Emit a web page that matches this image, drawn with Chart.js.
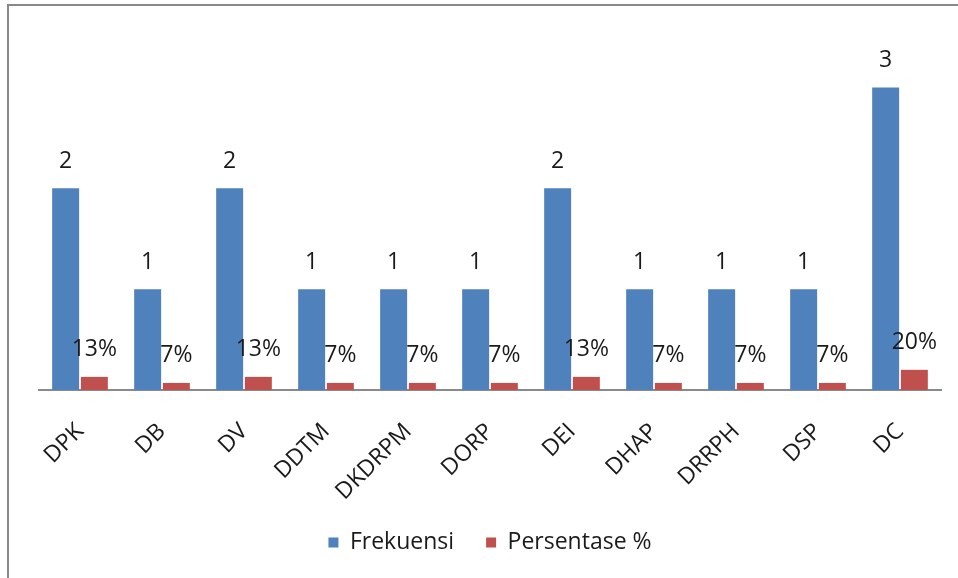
<!DOCTYPE html>
<html>
<head>
<meta charset="utf-8">
<script src="https://cdn.jsdelivr.net/npm/chart.js@4"></script>
<style>
  html, body { margin: 0; padding: 0; background: #fff; }
  #wrap { position: absolute; left: 0; top: 0; width: 958px; height: 578px; }
  .fl { position: absolute; background: #898989; }
</style>
</head>
<body>
<div id="wrap"><canvas id="c" width="958" height="578"></canvas></div>
<div class="fl" style="left:7px;top:4px;width:951px;height:2px;"></div>
<div class="fl" style="left:7px;top:4px;width:2px;height:574px;"></div>
<script>
const categories = ['DPK', 'DB', 'DV', 'DDTM', 'DKDRPM', 'DORP', 'DEI', 'DHAP', 'DRRPH', 'DSP', 'DC'];
const frekuensi = [2, 1, 2, 1, 1, 1, 2, 1, 1, 1, 3];
const persentase = [0.13, 0.07, 0.13, 0.07, 0.07, 0.07, 0.13, 0.07, 0.07, 0.07, 0.20];
const seriesNames = ['Frekuensi', 'Persentase %'];

const FONT = "'Open Sans', 'Liberation Sans', sans-serif";
const FS = 23;

const valueLabels = {
  id: 'valueLabels',
  afterDatasetsDraw(chart) {
    const ctx = chart.ctx;
    ctx.save();
    ctx.font = FS + 'px ' + FONT;
    ctx.fillStyle = '#1a1a1a';
    ctx.textAlign = 'center';
    ctx.textBaseline = 'middle';
    chart.data.datasets.forEach((ds, di) => {
      const meta = chart.getDatasetMeta(di);
      meta.data.forEach((bar, i) => {
        const v = ds.data[i];
        const txt = di === 0 ? String(v) : Math.round(v * 100) + '%';
        ctx.fillText(txt, bar.x, bar.y - 27);
      });
    });
    ctx.restore();
  }
};

new Chart(document.getElementById('c'), {
  type: 'bar',
  data: {
    labels: categories,
    datasets: [
      { label: seriesNames[0], data: frekuensi, backgroundColor: '#4F81BD', barPercentage: 0.94, categoryPercentage: 0.7 },
      { label: seriesNames[1], data: persentase, backgroundColor: '#C0504D', barPercentage: 0.94, categoryPercentage: 0.7 }
    ]
  },
  options: {
    responsive: false,
    animation: false,
    layout: { padding: { left: 39, right: 17, top: 37, bottom: 14 } },
    scales: {
      x: {
        grid: { display: false },
        border: { display: true, color: '#8a8a8a', width: 2 },
        ticks: { color: '#1a1a1a', font: { family: FONT, size: FS }, minRotation: 45, maxRotation: 45, padding: 20 },
        afterFit(scale) { scale.height = 109; }
      },
      y: { display: false, min: 0, max: 3.5 }
    },
    plugins: {
      legend: {
        position: 'bottom',
        labels: { boxWidth: 10, boxHeight: 10, padding: 32, color: '#1a1a1a', font: { family: FONT, size: FS } }
      },
      tooltip: { enabled: false }
    }
  },
  plugins: [valueLabels]
});
</script>
</body>
</html>
